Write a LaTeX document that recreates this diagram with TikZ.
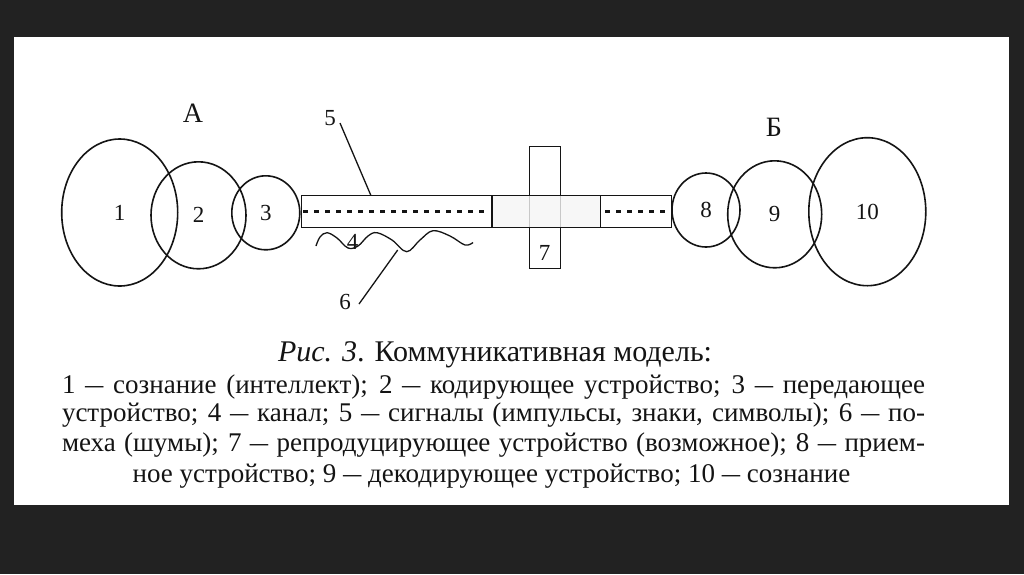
\documentclass[tikz,border=0pt]{standalone}
\usepackage{fontspec}
\usepackage{graphicx}
\setmainfont{Liberation Serif}
\usetikzlibrary{shapes.geometric}
\definecolor{bgdark}{HTML}{222222}
\definecolor{ink}{HTML}{141414}
\newcommand\mdsh{\scalebox{0.68}[1]{—}}
\begin{document}
\begin{tikzpicture}[x=1pt,y=-1pt,
  ring/.style={draw=ink, line width=1.6pt, ellipse, inner sep=0pt, font=\fontsize{23}{24}\selectfont, text=ink},
  lbl/.style={font=\fontsize{23}{24}\selectfont, text=ink, inner sep=0pt},
  captxt/.style={font=\fontsize{27}{30}\selectfont, text=ink, inner sep=0pt, anchor=base},
  link/.style={draw=ink, line width=1.3pt},
  boxed/.style={draw=ink, line width=1.3pt, inner sep=0pt},
  sig/.style={draw=ink, line width=2.6pt, dash pattern=on 5pt off 6pt}]
\useasboundingbox (0,0) rectangle (1024,574);
\fill[bgdark] (0,0) rectangle (1024,574);
\fill[white] (14,37) rectangle (1009,505);

% circles
\node[ring, minimum width=116, minimum height=147] (e1) at (119.7,212.5) {1};
\node[ring, minimum width=95, minimum height=107] (e2) at (198.5,215.3) {2};
\node[ring, minimum width=68, minimum height=74] (e3) at (265.8,212.8) {3};
\node[ring, minimum width=68, minimum height=74] (e8) at (706,210) {8};
\node[ring, minimum width=94, minimum height=107] (e9) at (774.7,214.3) {9};
\node[ring, minimum width=117, minimum height=148] (e10) at (867.3,211.7) {10};

\node[lbl, font=\fontsize{28}{30}\selectfont] (lA) at (193,113) {А};
\node[lbl, font=\fontsize{28}{30}\selectfont] (lB) at (774,127) {Б};

% reproducing device 7
\node[boxed, minimum width=31, minimum height=122] (r7) at (544.8,207.3) {};
\node[lbl] (l7) at (544.5,253) {7};

% channel
\fill[gray!8, opacity=0.8] (492,195.7) rectangle (600.7,227.7);
\node[boxed, minimum width=370, minimum height=32] (chan) at (486.7,211.7) {};
\coordinate (d1t) at (492,195.7); \coordinate (d1b) at (492,227.7);
\coordinate (d2t) at (600.7,195.7); \coordinate (d2b) at (600.7,227.7);
\draw[link] (d1t) -- (d1b);
\draw[link] (d2t) -- (d2b);
\coordinate (s1a) at (303,211.5); \coordinate (s1b) at (489,211.5);
\coordinate (s2a) at (605,211.5); \coordinate (s2b) at (671,211.5);
\draw[sig] (s1a) -- (s1b);
\draw[sig] (s2a) -- (s2b);

% labels 5, 4, 6
\node[lbl] (l5) at (330,118) {5};
\coordinate (p5) at (371,195.7);
\coordinate (q5) at (340,123);
\draw[link] (q5) -- (p5);
\node[lbl] (l4) at (352.7,241.7) {4};
\draw[link] plot[smooth, tension=0.6] coordinates {(316,246) (320,237) (327,232.7) (337,238) (348,248) (358,246) (368,236) (377,232.7) (392,240) (406.7,251.7) (420,240) (433,230.7) (450,236) (465,245) (473,242.5)};
\node[lbl] (l6) at (345,302) {6};
\coordinate (p6) at (397.7,250);
\coordinate (q6) at (359,304);
\draw[link] (q6) -- (p6);

% caption
\node[captxt, font=\fontsize{30}{32}\selectfont] (t0) at (495,361.5) {\textit{Рис. 3}. Коммуникативная модель:};
\node[captxt] (t1) at (493.5,393) {\makebox[863pt][s]{1 \mdsh{} сознание (интеллект); 2 \mdsh{} кодирующее устройство; 3 \mdsh{} передающее}};
\node[captxt] (t2) at (493.5,421.5) {\makebox[863pt][s]{устройство; 4 \mdsh{} канал; 5 \mdsh{} сигналы (импульсы, знаки, символы); 6 \mdsh{} по-}};
\node[captxt] (t3) at (493.5,451.5) {\makebox[863pt][s]{меха (шумы); 7 \mdsh{} репродуцирующее устройство (возможное); 8 \mdsh{} прием-}};
\node[captxt] (t4) at (491.5,482) {ное устройство; 9 \mdsh{} декодирующее устройство; 10 \mdsh{} сознание};
\end{tikzpicture}
\end{document}
